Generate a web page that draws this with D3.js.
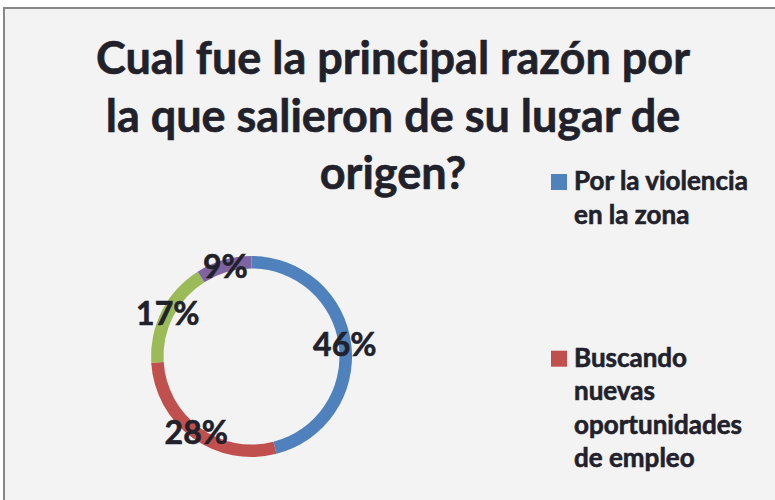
<!DOCTYPE html>
<html>
<head>
<meta charset="utf-8">
<script src="https://cdn.jsdelivr.net/npm/d3@7"></script>
<style>
  html, body { margin: 0; padding: 0; background: #ffffff; }
  svg { display: block; }
  text { font-family: "Lato", "Open Sans", sans-serif; font-weight: 700; fill: #21212b; stroke: #21212b; stroke-width: 0.6px; }
</style>
</head>
<body>
<svg id="chart" width="775" height="500"></svg>
<script>
// ---- data ----
const categories = ["Por la violencia en la zona", "Buscando nuevas oportunidades de empleo", "Otra razón 1", "Otra razón 2"];
const values = [46, 28, 17, 9];
const colors = ["#4F81BD", "#C0504D", "#9BBB59", "#8064A2"];
const titleLines = ["Cual fue la principal razón por", "la que salieron de su lugar de", "origen?"];
// legend lines as wrapped in the reference (only the first two entries fit)
const legendLines = [["Por la violencia", "en la zona"], ["Buscando", "nuevas", "oportunidades", "de empleo"]];

const svg = d3.select("#chart");

// chart area background + border
svg.append("rect")
  .attr("x", 4).attr("y", 8)
  .attr("width", 820).attr("height", 560)
  .attr("fill", "#F3F3F3")
  .attr("stroke", "#878787")
  .attr("stroke-width", 2);

// title
const title = svg.append("text")
  .attr("text-anchor", "middle")
  .style("font-size", "45px");
titleLines.forEach((l, i) => {
  title.append("tspan").attr("x", 393).attr("y", 74 + i * 57.5).text(l);
});

// donut
const cx = 251.5, cy = 356.5;
const outerR = 100.5, innerR = 88;
const pie = d3.pie().sort(null).value(d => d)(values);
const arc = d3.arc().innerRadius(innerR).outerRadius(outerR);
const labelArc = d3.arc().innerRadius(94).outerRadius(94);
const total = d3.sum(values);

const g = svg.append("g").attr("transform", `translate(${cx},${cy})`);
g.selectAll("path.slice")
  .data(pie)
  .join("path")
  .attr("class", "slice")
  .attr("d", arc)
  .attr("fill", (d, i) => colors[i]);

g.selectAll("text.lbl")
  .data(pie)
  .join("text")
  .attr("class", "lbl")
  .attr("text-anchor", "middle")
  .attr("dy", "0.36em")
  .attr("transform", d => `translate(${labelArc.centroid(d)})`)
  .style("font-size", "32px")
  .text(d => Math.round(d.data / total * 100) + "%");

// legend
const legendY = [190, 366.7];
legendLines.forEach((lines, i) => {
  svg.append("rect")
    .attr("x", 551).attr("y", legendY[i] - 16)
    .attr("width", 16).attr("height", 16)
    .attr("fill", colors[i]);
  const t = svg.append("text").style("font-size", "26px");
  lines.forEach((l, j) => {
    t.append("tspan").attr("x", 574).attr("y", legendY[i] + j * 33.5).text(l);
  });
});
</script>
</body>
</html>
